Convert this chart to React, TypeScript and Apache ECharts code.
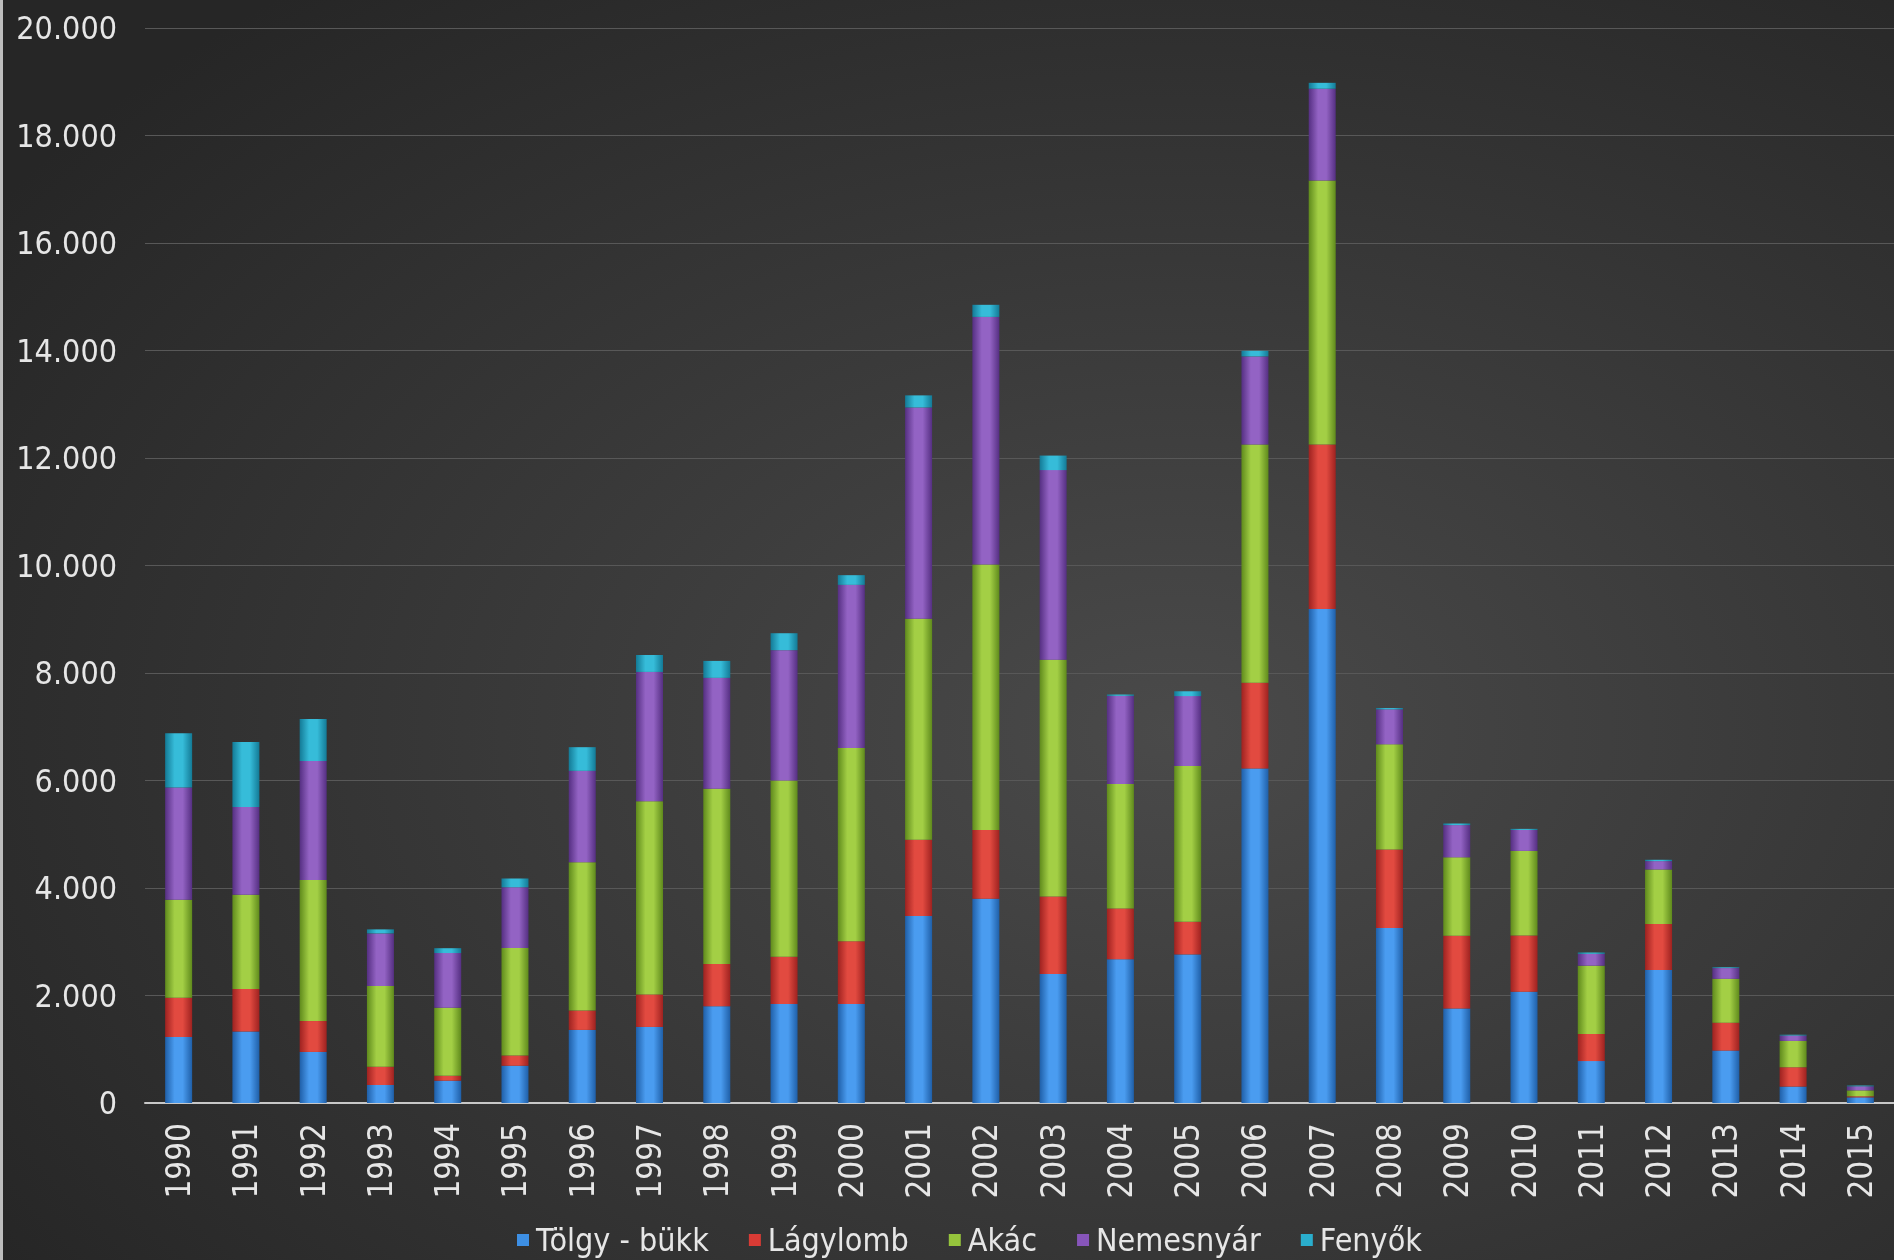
import React, { useEffect, useRef } from "react";
import * as echarts from "echarts";

const years = ["1990","1991","1992","1993","1994","1995","1996","1997","1998","1999","2000","2001","2002","2003","2004","2005","2006","2007","2008","2009","2010","2011","2012","2013","2014","2015"];
const seriesNames = ["Tölgy - bükk", "Lágylomb", "Akác", "Nemesnyár", "Fenyők"];
const tolgyBukk = [1230,1330,950,335,415,695,1360,1415,1800,1840,1840,3480,3800,2400,2675,2765,6225,9190,3258,1760,2070,780,2475,975,305,105];
const lagylomb = [730,790,575,340,90,190,360,605,785,880,1170,1420,1280,1440,945,605,1595,3060,1460,1350,1045,505,855,520,360,20];
const akac = [1820,1755,2625,1500,1265,2000,2760,3595,3260,3280,3595,4110,4940,4405,2315,2900,4430,4915,1955,1460,1575,1270,1015,815,490,110];
const nemesnyar = [2090,1630,2215,980,1020,1130,1700,2405,2065,2425,3035,3930,4605,3530,1640,1300,1640,1705,650,600,390,220,155,200,100,75];
const fenyok = [1010,1210,780,75,90,160,440,315,315,315,180,225,225,270,25,90,105,110,25,30,20,25,25,15,15,15];
const yTicks = [0, 2000, 4000, 6000, 8000, 10000, 12000, 14000, 16000, 18000, 20000];

const colors = [
  ["#1f5fa8", "#4a9cf0"],
  ["#9e2220", "#e24a40"],
  ["#5f8a1c", "#a3cf45"],
  ["#552f82", "#9363c4"],
  ["#137a96", "#36bcd9"],
];
const legendColors = ["#3d8fe4", "#d93b35", "#95c43c", "#8755ba", "#2aaecd"];

const grad = (c: string[]) =>
  new echarts.graphic.LinearGradient(0, 0, 1, 0, [
    { offset: 0, color: c[0] },
    { offset: 0.35, color: c[1] },
    { offset: 0.65, color: c[1] },
    { offset: 1, color: c[0] },
  ]);

const fmt = (v: number) => {
  const s = String(Math.round(v));
  return s.replace(/\B(?=(\d{3})+(?!\d))/g, ".");
};

export default function App() {
  const ref = useRef<HTMLDivElement>(null);
  useEffect(() => {
    if (!ref.current) return;
    const chart = echarts.init(ref.current, null, { renderer: "svg" });
    const data = [tolgyBukk, lagylomb, akac, nemesnyar, fenyok];
    const font = "'DejaVu Sans Condensed', 'DejaVu Sans', sans-serif";
    chart.setOption({
      animation: false,
      backgroundColor: new echarts.graphic.RadialGradient(0.62, 0.58, 0.75, [
        { offset: 0, color: "#4a4a4a" },
        { offset: 1, color: "#262626" },
      ]),
      graphic: [
        { type: "rect", left: 0, top: 0, shape: { width: 3, height: 1260 }, style: { fill: "#bdbdbd" } },
      ],
      grid: { left: 145, right: 0, top: 28, bottom: 157 },
      legend: {
        top: 1219,
        left: 512,
        itemWidth: 12,
        itemHeight: 12,
        itemGap: 40,
        icon: "rect",
        textStyle: { color: "#e6e6e6", fontSize: 32, fontFamily: font, padding: [0, 0, 0, 2] },
        data: seriesNames.map((n, i) => ({ name: n, itemStyle: { color: legendColors[i] } })),
      },
      xAxis: {
        type: "category",
        data: years,
        axisLine: { show: true, lineStyle: { color: "#c8c8c8", width: 2 } },
        axisTick: { show: false },
        axisLabel: {
          rotate: 90,
          color: "#e6e6e6",
          fontSize: 33,
          fontFamily: font,
          margin: 20,
          interval: 0,
        },
      },
      yAxis: {
        type: "value",
        min: 0,
        max: 20000,
        interval: 2000,
        axisLine: { show: false },
        axisTick: { show: false },
        splitLine: { lineStyle: { color: "#585858", width: 1 } },
        axisLabel: {
          color: "#e6e6e6",
          fontSize: 32,
          fontFamily: font,
          margin: 28,
          formatter: (v: number) => (yTicks.includes(v) ? fmt(v) : ""),
        },
      },
      series: seriesNames.map((name, i) => ({
        name,
        type: "bar",
        stack: "total",
        barWidth: 27,
        data: data[i],
        itemStyle: { color: grad(colors[i]) },
      })),
    });
    return () => chart.dispose();
  }, []);
  return (
    <div
      ref={ref}
      style={{ position: "fixed", left: 0, top: 0, width: 1894, height: 1260 }}
    />
  );
}
